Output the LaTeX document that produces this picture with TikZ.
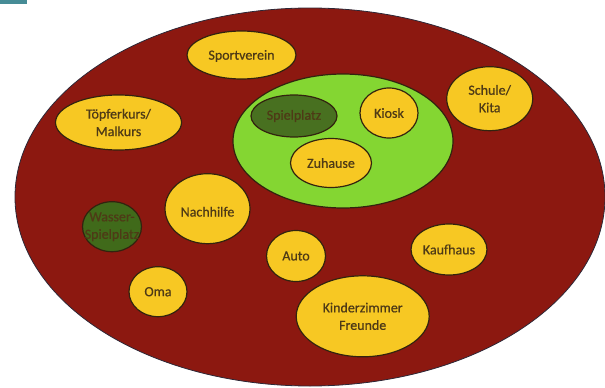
\documentclass[tikz,border=0pt]{standalone}
\usepackage{fontspec}
\setmainfont{Carlito}
\newfontfamily\lblfont{Carlito}[FakeBold=0.6]
\usetikzlibrary{shapes.geometric}
\definecolor{bgred}{RGB}{140,24,16}
\definecolor{yel}{RGB}{247,200,35}
\definecolor{lgreen}{RGB}{132,214,50}
\definecolor{dgreen}{RGB}{72,112,32}
\definecolor{dgreenb}{RGB}{64,106,26}
\definecolor{outl}{RGB}{50,35,15}
\definecolor{txt}{RGB}{78,58,22}
\definecolor{rim}{RGB}{45,40,55}
\definecolor{tealmark}{RGB}{70,140,150}
\tikzset{
  blob/.style args={#1/#2}{ellipse, draw=outl, line width=1.2pt, inner sep=0pt,
    minimum width=#1pt, minimum height=#2pt},
  yblob/.style={blob=#1, fill=yel},
  lbl/.style={text=txt, font=\lblfont\fontsize{14}{17.5}\selectfont, align=center, inner sep=0pt}
}
\begin{document}
\begin{tikzpicture}[x=1pt,y=-1pt]
\useasboundingbox (0,0) rectangle (605,388);
\fill[tealmark] (0,0) rectangle (27,3.5);
% outer ellipse
\node[ellipse, draw=rim, line width=0.8pt, fill=bgred, inner sep=0pt,
      minimum width=590pt, minimum height=378pt] (world) at (310,197) {};
% green inner area
\node[blob=220/134, fill=lgreen] (home) at (343,141) {};
\node[blob=86/42, fill=dgreen] (spiel) at (294,116) {};
\node[lbl] at (spiel) {Spielplatz};
\node[yblob=58/50] (kiosk) at (389,113) {};
\node[lbl] at (kiosk) {Kiosk};
\node[yblob=81/49] (zuhause) at (331,163) {};
\node[lbl] at (zuhause) {Zuhause};
% outer places
\node[yblob=109/48] (sport) at (241.5,55) {};
\node[lbl] at ([yshift=-1pt]sport.center) {Sportverein};
\node[yblob=126/55] (toepfer) at (118.5,122.5) {};
\node[lbl] at (toepfer) {Töpferkurs/\\Malkurs};
\node[yblob=86/64] (schule) at (489.7,98.7) {};
\node[lbl] at (schule) {Schule/\\Kita};
\node[yblob=85/70] (nachhilfe) at (207.5,208.7) {};
\node[lbl] at ([yshift=-3pt]nachhilfe.center) {Nachhilfe};
\node[blob=59/50, fill=dgreenb] (wasser) at (112,226.7) {};
\node[lbl] at (wasser) {Wasser-\\Spielplatz};
\node[yblob=58/50] (oma) at (158,291.7) {};
\node[lbl] at (oma) {Oma};
\node[yblob=59/51] (auto) at (296,256) {};
\node[lbl] at (auto) {Auto};
\node[yblob=76/51] (kaufhaus) at (449,249.5) {};
\node[lbl] at (kaufhaus) {Kaufhaus};
\node[yblob=133/81] (kinder) at (362.7,316.3) {};
\node[lbl] at (kinder) {Kinderzimmer\\Freunde};
\end{tikzpicture}
\end{document}
